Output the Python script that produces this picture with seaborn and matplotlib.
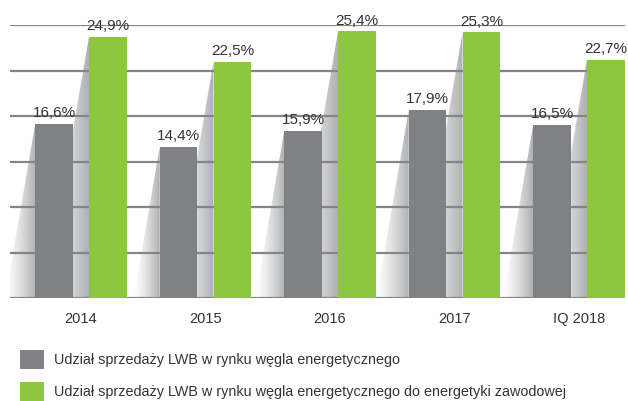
import numpy as np
import pandas as pd
import seaborn as sns
import matplotlib.pyplot as plt
from matplotlib.patches import Polygon, Patch

years = ['2014', '2015', '2016', '2017', 'IQ 2018']
share_total = [16.6, 14.4, 15.9, 17.9, 16.5]
share_power = [24.9, 22.5, 25.4, 25.3, 22.7]
series = ['Udział sprzedaży LWB w rynku węgla energetycznego',
          'Udział sprzedaży LWB w rynku węgla energetycznego do energetyki zawodowej']
colors = ['#808184', '#8dc63f']

df = pd.DataFrame({
    'rok': years * 2,
    'udzial': share_total + share_power,
    'seria': [series[0]] * len(years) + [series[1]] * len(years),
})

sns.set_style('white')
plt.rcParams['font.family'] = ['Liberation Sans', 'DejaVu Sans']

fig = plt.figure(figsize=(6.28, 4.01), dpi=100)
ax = fig.add_axes([10 / 628, 103 / 401, 615 / 628, 273 / 401])

sns.barplot(data=df, x='rok', y='udzial', hue='seria', palette=colors,
            width=0.864, gap=0.3, saturation=1, legend=False, ax=ax,
            zorder=3, linewidth=0, edgecolor='none')

ymax = 26

# gridlines (decorative, 6 bands)
for g in np.linspace(0, ymax, 7):
    ax.axhline(g, color='#858585', lw=1.6, zorder=2)

# gradient shadows and value labels
grad = np.linspace(0, 1, 256).reshape(1, -1) ** 1.3
cmap = sns.blend_palette(['#ffffff', '#aeb0b3'], as_cmap=True)
bars = list(ax.patches)
for b in bars:
    x0 = b.get_x()
    h = b.get_height()
    w = b.get_width()
    dx = h * 0.0145
    tri = Polygon([(x0 - dx, 0), (x0, h), (x0, 0)], closed=True,
                  facecolor='none', edgecolor='none')
    ax.add_patch(tri)
    im = ax.imshow(grad, extent=[x0 - dx, x0, 0, h], aspect='auto',
                   cmap=cmap, zorder=1, interpolation='bilinear')
    im.set_clip_path(tri)
    ax.text(x0 + w / 2, h + 0.35, f'{h:.1f}%'.replace('.', ','),
            ha='center', va='bottom', fontsize=11, color='#333333', zorder=4)

ax.set_xlim(-0.57, 4.37)
ax.set_ylim(0, ymax)
ax.set_xlabel('')
ax.set_ylabel('')
ax.set_yticks([])
ax.tick_params(axis='x', length=0, pad=10, labelsize=10.5, labelcolor='#333333')
for s in ax.spines.values():
    s.set_visible(False)

handles = [Patch(facecolor=c, edgecolor='none') for c in colors]
fig.legend(handles, series, loc='upper left', bbox_to_anchor=(0.032, 0.128),
           frameon=False, fontsize=10.4, handlelength=1.65, handleheight=1.65,
           handletextpad=0.68, labelspacing=0.9, borderaxespad=0, borderpad=0,
           labelcolor='#333333')

fig.savefig('out.png', dpi=100)
